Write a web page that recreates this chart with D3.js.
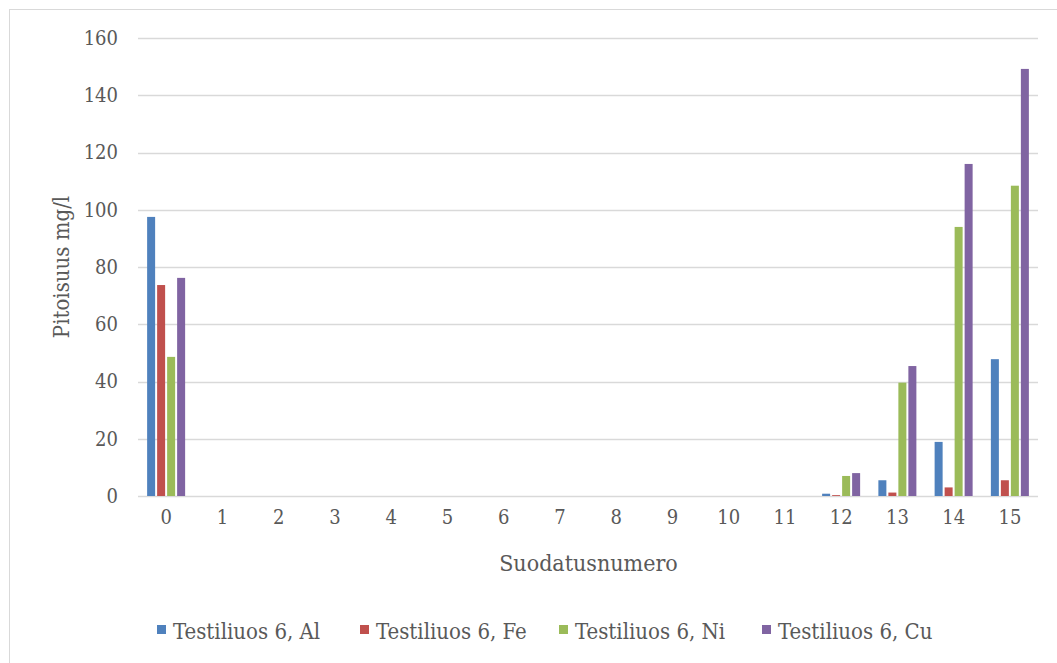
<!DOCTYPE html>
<html>
<head>
<meta charset="utf-8">
<script src="https://cdn.jsdelivr.net/npm/d3@7"></script>
<style>
  html, body { margin: 0; padding: 0; background: #fff; }
  svg { display: block; }
</style>
</head>
<body>
<svg id="chart" width="1057" height="663"></svg>
<script>
// Sample numbers (Suodatusnumero) on the x axis
const categories = ["0","1","2","3","4","5","6","7","8","9","10","11","12","13","14","15"];

// Concentrations in mg/l per test solution metal
const seriesNames = ["Testiliuos 6, Al", "Testiliuos 6, Fe", "Testiliuos 6, Ni", "Testiliuos 6, Cu"];
const alValues = [97.5, 0, 0, 0, 0, 0, 0, 0, 0, 0, 0, 0, 0.8, 5.5, 18.9, 47.8];
const feValues = [73.7, 0, 0, 0, 0, 0, 0, 0, 0, 0, 0, 0, 0.3, 1.2, 3.0, 5.5];
const niValues = [48.6, 0, 0, 0, 0, 0, 0, 0, 0, 0, 0, 0, 7.0, 39.6, 94.0, 108.4];
const cuValues = [76.2, 0, 0, 0, 0, 0, 0, 0, 0, 0, 0, 0, 8.0, 45.4, 116.0, 149.2];

const yTicks = [0, 20, 40, 60, 80, 100, 120, 140, 160];
const yTitle = "Pitoisuus mg/l";
const xTitle = "Suodatusnumero";

const colors = ["#4f81bd", "#c0504d", "#9bbb59", "#8064a2"];
const seriesValues = [alValues, feValues, niValues, cuValues];

const svg = d3.select("#chart");
const textColor = "#595959";
const fontFamily = "DejaVu Serif Condensed";

// outer chart frame
svg.append("rect")
  .attr("x", 9.5).attr("y", 9.5)
  .attr("width", 1080).attr("height", 700)
  .attr("fill", "none").attr("stroke", "#d9d9d9").attr("stroke-width", 1);

const plot = { left: 138, right: 1038, top: 38, bottom: 496 };

const x = d3.scaleBand().domain(categories).range([plot.left, plot.right]).paddingInner(0).paddingOuter(0);
const y = d3.scaleLinear().domain([0, 160]).range([plot.bottom, plot.top]);

// horizontal gridlines
svg.append("g")
  .selectAll("line")
  .data(yTicks)
  .join("line")
  .attr("x1", plot.left).attr("x2", plot.right)
  .attr("y1", d => Math.round(y(d)) + 0.5).attr("y2", d => Math.round(y(d)) + 0.5)
  .attr("stroke", "#d9d9d9").attr("stroke-width", 1.5);

// y axis labels
const yAxis = d3.axisLeft(y).tickValues(yTicks).tickSize(0).tickPadding(0);
const gy = svg.append("g").attr("transform", `translate(${plot.left - 20},0)`).call(yAxis);
gy.attr("font-family", fontFamily).attr("font-size", 20);
gy.select(".domain").remove();
gy.selectAll("text").attr("fill", textColor);

// x axis labels
const xAxis = d3.axisBottom(x).tickSize(0).tickPadding(0);
const gx = svg.append("g").attr("transform", `translate(0,${plot.bottom + 14})`).call(xAxis);
gx.attr("font-family", fontFamily).attr("font-size", 20);
gx.select(".domain").remove();
gx.selectAll("text").attr("fill", textColor);

// clustered bars
const barW = 8, barGap = 2;
const groupW = seriesValues.length * barW + (seriesValues.length - 1) * barGap;
const xs = d3.scaleBand().domain(d3.range(seriesValues.length))
  .range([0, groupW]).paddingInner(barGap / (barW + barGap)).paddingOuter(0);

seriesValues.forEach((vals, si) => {
  svg.append("g")
    .selectAll("rect")
    .data(vals.map((v, i) => ({ cat: categories[i], v })))
    .join("rect")
    .attr("x", d => x(d.cat) + (x.bandwidth() - groupW) / 2 + xs(si))
    .attr("width", xs.bandwidth())
    .attr("y", d => y(d.v))
    .attr("height", d => y(0) - y(d.v))
    .attr("fill", colors[si]);
});

// axis titles
svg.append("text")
  .attr("transform", `translate(69,${(plot.top + plot.bottom) / 2}) rotate(-90)`)
  .attr("text-anchor", "middle")
  .attr("fill", textColor)
  .attr("font-size", 22)
  .attr("font-family", fontFamily)
  .text(yTitle);

svg.append("text")
  .attr("x", (plot.left + plot.right) / 2 + 0.5)
  .attr("y", 571)
  .attr("text-anchor", "middle")
  .attr("fill", textColor)
  .attr("font-size", 23)
  .attr("font-family", fontFamily)
  .text(xTitle);

// legend
const legendX = [157, 360, 559, 762];
const legend = svg.append("g");
seriesNames.forEach((name, i) => {
  const g = legend.append("g").attr("transform", `translate(${legendX[i]},639)`);
  g.append("rect").attr("x", 0).attr("y", -14).attr("width", 9).attr("height", 9).attr("fill", colors[i]);
  g.append("text").attr("x", 16).attr("y", 0)
    .attr("fill", textColor)
    .attr("font-size", 22)
    .attr("font-family", fontFamily)
    .text(name);
});
</script>
</body>
</html>
